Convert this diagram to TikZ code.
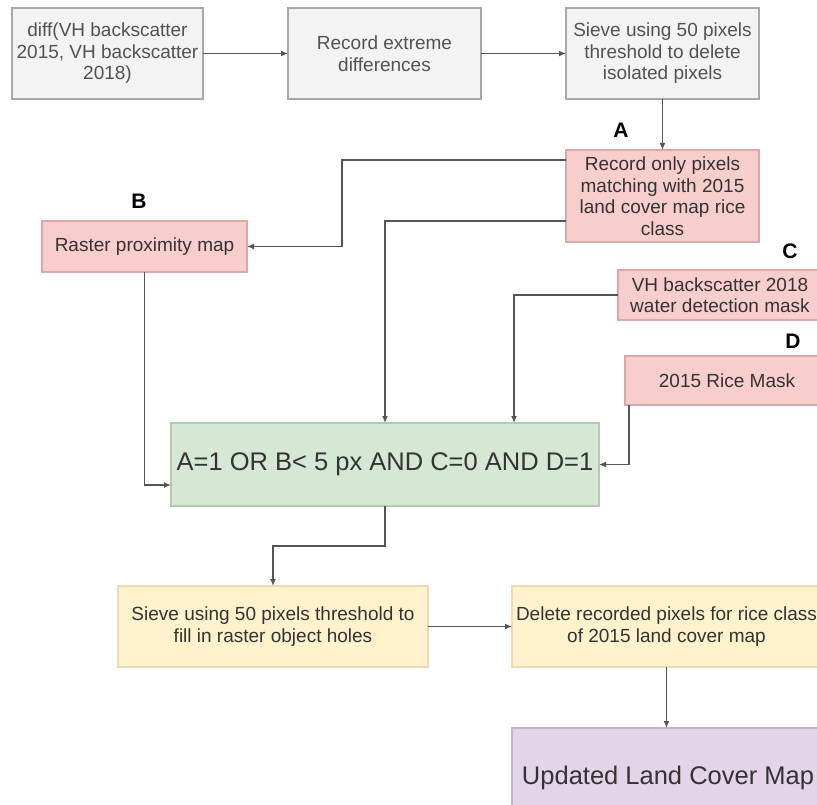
\documentclass[tikz,border=0pt]{standalone}
\usepackage{fontspec}
\setmainfont{Liberation Sans}
\usetikzlibrary{arrows.meta,positioning,calc}
\definecolor{grayfill}{HTML}{F3F3F3}
\definecolor{graydraw}{HTML}{A8A8A8}
\definecolor{pinkfill}{HTML}{F8CECC}
\definecolor{pinkdraw}{HTML}{D8A9A6}
\definecolor{greenfill}{HTML}{D5E8D4}
\definecolor{greendraw}{HTML}{B2CDAE}
\definecolor{yellowfill}{HTML}{FFF2CC}
\definecolor{yellowdraw}{HTML}{EADBB0}
\definecolor{purplefill}{HTML}{E1D5E7}
\definecolor{purpledraw}{HTML}{C3B3CE}
\definecolor{txt}{HTML}{333333}
\definecolor{linec}{HTML}{555555}
\begin{document}
\begin{tikzpicture}[x=1pt,y=-1pt,
  basebox/.style={rectangle,inner sep=0pt,outer sep=0pt,line width=1.2pt,align=center,
    text=txt,font=\fontsize{19}{21.5}\selectfont},
  graybox/.style={basebox,fill=grayfill,draw=graydraw,text=txt!85!white},
  pinkbox/.style={basebox,fill=pinkfill,draw=pinkdraw},
  greenbox/.style={basebox,fill=greenfill,draw=greendraw,font=\fontsize{25.5}{29}\selectfont},
  yellowbox/.style={basebox,fill=yellowfill,draw=yellowdraw},
  purplebox/.style={basebox,fill=purplefill,draw=purpledraw,font=\fontsize{25.5}{29}\selectfont},
  tag/.style={inner sep=0pt,font=\fontsize{21}{24}\selectfont\bfseries,text=black},
  conn/.style={draw=linec,line width=1.3pt,-{Latex[length=7pt,width=6pt]}}
]
\useasboundingbox (0,0) rectangle (817,805);
\clip (0,0) rectangle (817,805);
\fill[white] (0,0) rectangle (817,805);

% top row
\node[graybox,minimum width=191pt,minimum height=91pt] (n1) at (107.5,53.5) {diff(VH backscatter\\2015, VH backscatter\\2018)};
\node[graybox,minimum width=193pt,minimum height=91pt] (n2) at (384.5,53.5) {Record extreme\\differences};
\node[graybox,minimum width=193pt,minimum height=91pt] (n3) at (662.5,53.5) {Sieve using 50 pixels\\threshold to delete\\isolated pixels};

% pink inputs
\node[pinkbox,minimum width=193pt,minimum height=92pt] (nA) at (662.5,196) {Record only pixels\\matching with 2015\\land cover map rice\\class};
\node[pinkbox,minimum width=205pt,minimum height=51pt] (nB) at (144.5,246.5) {Raster proximity map};
\node[pinkbox,minimum width=204pt,minimum height=50pt] (nC) at (720,295) {VH backscatter 2018\\water detection mask};
\node[pinkbox,minimum width=204pt,minimum height=49pt] (nD) at (727,380.5) {2015 Rice Mask};

% labels
\node[tag] (lA) at (621,130) {A};
\node[tag] (lB) at (139,201) {B};
\node[tag] (lC) at (790,251) {C};
\node[tag] (lD) at (793,341) {D};

% condition
\node[greenbox,minimum width=428pt,minimum height=83pt] (g) at (385,464.5) {A=1 OR B< 5 px AND C=0 AND D=1};

% bottom
\node[yellowbox,minimum width=310pt,minimum height=81pt] (y1) at (273,626.5) {Sieve using 50 pixels threshold to\\fill in raster object holes};
\node[yellowbox,minimum width=309pt,minimum height=81pt] (y2) at (666.5,626.5) {Delete recorded pixels for rice class\\of 2015 land cover map};
\node[purplebox,minimum width=312pt,minimum height=100pt] (p) at (668,778) {Updated Land Cover Map};

% connectors
\draw[conn] (n1.east) -- (n2.west);
\draw[conn] (n2.east) -- (n3.west);
\draw[conn] (n3.south) -- (nA.north);
\draw[conn] ([yshift=36pt]nA.west) -- ++(-224,0) |- (nB.east);
\draw[conn] ([yshift=-25pt]nA.west) -| (g.north);
\draw[conn] (nB.south) |- ([yshift=-20.5pt]g.west);
\draw[conn] (nC.west) -| ([xshift=129pt]g.north);
\draw[conn] ([xshift=-98pt]nD.south) |- (g.east);
\draw[conn] (g.south) -- ++(0,40) -| (y1.north);
\draw[conn] (y1.east) -- (y2.west);
\draw[conn] (y2.south) -- (y2.south |- p.north);
\end{tikzpicture}
\end{document}
